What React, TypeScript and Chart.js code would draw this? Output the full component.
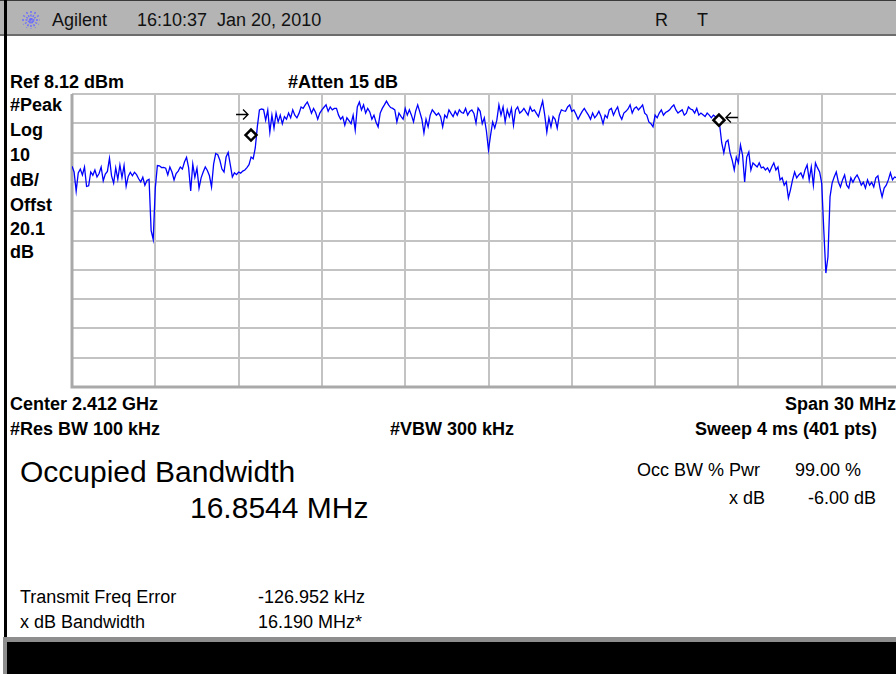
import React, { useEffect, useRef } from "react";
import { Chart, registerables } from "chart.js";

Chart.register(...registerables);

const START_FREQ_MHZ = -15; // Center 2.412 GHz, Span 30 MHz
const STOP_FREQ_MHZ = 15;
const SWEEP_POINTS = 401;
const REF_LEVEL_DBM = 8.12;
const BOTTOM_LEVEL_DBM = -91.88; // 10 dB/div, 10 divisions

const LEVELS_DBM: number[] = [
  -16.5, -18.5, -25.0, -18.8, -17.5, -19.5, -16.8, -23.4, -23.2, -18.5,
  -19.6, -17.8, -20.2, -19.0, -16.8, -21.5, -19.2, -18.3, -13.8, -19.8,
  -22.3, -17.1, -21.0, -16.1, -20.4, -16.3, -23.4, -20.0, -18.6, -19.8,
  -18.6, -19.4, -20.8, -21.9, -20.3, -23.0, -21.4, -21.0, -38.5, -41.5,
  -24.0, -16.3, -16.4, -17.0, -16.9, -17.2, -19.5, -16.8, -18.5, -21.2,
  -19.0, -18.2, -16.8, -17.5, -15.1, -13.5, -17.0, -25.0, -15.8, -20.3,
  -17.2, -24.0, -20.5, -18.5, -16.8, -18.0, -19.8, -23.6, -15.8, -12.2,
  -12.6, -14.5, -17.5, -18.5, -13.4, -11.8, -16.0, -20.2, -18.8, -19.4,
  -18.5, -18.9, -18.2, -17.8, -17.0, -16.0, -13.4, -14.0, -10.3, -3.0,
  2.7, 3.0, 2.8, -0.8, 2.6, -4.9, 0.9, -3.5, 1.6, -1.4,
  0.9, -2.0, 0.4, -0.5, 1.6, 0.0, 2.7, 0.9, 0.0, 1.5,
  3.7, 3.2, 4.4, 5.4, 3.7, 1.6, 3.2, 1.8, -0.5, 1.6,
  2.7, 3.6, 4.4, 2.2, 3.7, 2.7, 3.2, 3.2, 0.9, -0.5,
  0.4, -2.5, 0.0, -1.0, -2.0, 0.9, -4.2, 3.7, 5.4, 2.7,
  4.4, 1.6, 3.2, 2.0, -0.5, 0.9, -1.5, -3.1, 1.6, 3.2,
  4.4, 5.7, 4.4, 3.5, 3.2, 2.7, -1.4, 1.6, 0.5, -0.5,
  3.2, 0.9, 2.7, 0.9, -1.4, 2.2, 4.4, 2.0, -0.5, -5.2,
  -0.5, -3.1, 0.9, 2.7, 1.8, 0.9, 1.6, 0.4, -3.1, 0.9,
  0.0, 2.7, 1.5, 0.4, 2.2, 0.9, 2.7, 1.8, 1.6, 3.2,
  0.9, 2.2, 2.7, 1.5, -1.8, 3.3, 2.2, -2.0, 0.0, -4.5,
  -11.0, -5.9, -1.4, -3.5, -0.8, 4.4, 0.9, 3.7, -1.4, 2.7,
  0.4, 3.2, -2.5, 2.7, 3.7, 1.6, 2.2, 3.2, 2.0, 0.9,
  3.7, 2.2, 2.7, 1.5, 0.4, 3.2, 5.7, 0.9, -4.9, 0.0,
  -3.1, 0.4, -0.5, -3.5, 0.9, 2.7, 2.4, 2.2, 3.7, 4.4,
  2.2, 2.7, 1.2, -0.5, 0.9, 2.2, 3.2, 2.0, 0.9, -0.5,
  1.6, 0.0, 0.9, 2.2, 0.5, -2.0, 0.9, 0.0, 2.7, 3.2,
  0.9, 2.5, 3.7, 0.9, -0.5, 1.6, 2.2, 3.0, 4.4, 1.6,
  3.2, 3.7, 2.7, 3.5, 4.4, 1.6, 0.9, -1.4, -2.0, -3.1,
  0.9, 0.0, 1.6, 2.7, 0.9, 1.8, 2.2, 2.7, 3.7, 4.4,
  2.7, 1.6, 2.2, 2.7, 0.9, 1.6, 3.7, 3.0, 2.7, 1.6,
  3.2, 0.9, 1.6, 1.0, 0.4, 1.6, 0.9, 0.0, 0.9, 0.4,
  -0.5, -2.5, -8.6, -12.0, -8.3, -7.6, -12.0, -14.4, -17.8, -13.4,
  -15.4, -9.3, -12.7, -21.9, -13.4, -11.7, -17.8, -15.4, -16.1, -16.8,
  -15.4, -17.1, -16.8, -17.8, -17.1, -18.5, -16.8, -15.4, -17.8, -16.8,
  -21.2, -20.5, -23.0, -21.9, -27.4, -24.6, -21.2, -18.5, -20.5, -19.5,
  -18.8, -20.5, -17.8, -16.1, -21.2, -16.8, -23.0, -15.4, -17.1, -18.5,
  -22.3, -38.3, -53.0, -47.5, -27.0, -22.3, -20.2, -18.5, -21.9, -23.6,
  -21.2, -19.5, -23.0, -24.0, -20.5, -22.0, -20.5, -19.5, -21.0, -23.0,
  -22.0, -24.0, -21.2, -23.0, -22.0, -23.6, -20.5, -19.8, -24.0, -27.0,
  -24.0, -23.0, -21.2, -18.8, -21.2, -20.2, -20.5, -19.0, -21.5, -22.0,
  -20.0,
];

const X_GRID_MHZ = [-15, -12, -9, -6, -3, 0, 3, 6, 9, 12, 15];
const Y_GRID_DBM = [8.12, -1.88, -11.88, -21.88, -31.88, -41.88, -51.88, -61.88, -71.88, -81.88, -91.88];

const MARKER_FREQS_MHZ = [-8.554, 8.3];
const MARKER_LEVELS_DBM = [-5.9, -0.8];
const ARROW_FREQS_MHZ = [-8.66, 8.55];
const ARROW_LEVELS_DBM = [1.3, 0.3];
const ARROW_DIRS = [1, -1];

const gridPlugin = {
  id: "saGrid",
  beforeDatasetsDraw(chart: any) {
    const { ctx, chartArea, scales } = chart;
    const xs = scales.x;
    const ys = scales.y;
    ctx.save();
    ctx.strokeStyle = "#c3c3c3";
    ctx.lineWidth = 2;
    X_GRID_MHZ.forEach((f) => {
      const px = Math.round(xs.getPixelForValue(f));
      ctx.beginPath();
      ctx.moveTo(px, chartArea.top);
      ctx.lineTo(px, chartArea.bottom);
      ctx.stroke();
    });
    Y_GRID_DBM.forEach((v) => {
      const py = Math.round(ys.getPixelForValue(v));
      ctx.beginPath();
      ctx.moveTo(chartArea.left, py);
      ctx.lineTo(chartArea.right, py);
      ctx.stroke();
    });
    // heavier left and bottom frame
    ctx.strokeStyle = "#a9a9a9";
    ctx.lineWidth = 3;
    ctx.beginPath();
    ctx.moveTo(chartArea.left, chartArea.top);
    ctx.lineTo(chartArea.left, chartArea.bottom);
    ctx.lineTo(chartArea.right, chartArea.bottom);
    ctx.stroke();
    ctx.restore();
  },
};

const arrowPlugin = {
  id: "saArrows",
  afterDatasetsDraw(chart: any) {
    const { ctx, scales } = chart;
    ctx.save();
    ctx.strokeStyle = "#000";
    ctx.lineWidth = 1.3;
    ARROW_FREQS_MHZ.forEach((f, i) => {
      const tip = scales.x.getPixelForValue(f);
      const py = Math.round(scales.y.getPixelForValue(ARROW_LEVELS_DBM[i])) + 0.5;
      const d = ARROW_DIRS[i];
      ctx.beginPath();
      ctx.moveTo(tip - d * 12, py);
      ctx.lineTo(tip, py);
      ctx.moveTo(tip - d * 5, py - 5);
      ctx.lineTo(tip, py);
      ctx.lineTo(tip - d * 5, py + 5);
      ctx.stroke();
    });
    ctx.restore();
  },
};

function SpectrumChart() {
  const ref = useRef<HTMLCanvasElement | null>(null);
  useEffect(() => {
    if (!ref.current) return;
    const step = (STOP_FREQ_MHZ - START_FREQ_MHZ) / (SWEEP_POINTS - 1);
    const trace = LEVELS_DBM.map((v, i) => ({ x: START_FREQ_MHZ + i * step, y: v }));
    const markers = MARKER_FREQS_MHZ.map((f, i) => ({ x: f, y: MARKER_LEVELS_DBM[i] }));
    const chart = new Chart(ref.current, {
      type: "line",
      data: {
        datasets: [
          {
            data: markers,
            showLine: false,
            pointStyle: "rectRot",
            pointRadius: 5.5,
            pointBorderWidth: 2.5,
            pointBorderColor: "#000",
            pointBackgroundColor: "#fff",
            order: 0,
          },
          {
            data: trace,
            borderColor: "#0000ff",
            borderWidth: 1.3,
            pointRadius: 0,
            tension: 0,
            fill: false,
            order: 1,
          },
        ],
      },
      options: {
        responsive: false,
        animation: false,
        devicePixelRatio: 1,
        layout: { autoPadding: false, padding: { left: 2, top: 2, right: 5, bottom: 3 } },
        plugins: { legend: { display: false }, tooltip: { enabled: false } },
        scales: {
          x: { type: "linear", min: START_FREQ_MHZ, max: STOP_FREQ_MHZ, display: false },
          y: { type: "linear", min: BOTTOM_LEVEL_DBM, max: REF_LEVEL_DBM, display: false },
        },
      },
      plugins: [gridPlugin, arrowPlugin],
    });
    return () => chart.destroy();
  }, []);
  return (
    <canvas
      ref={ref}
      width={840}
      height={298}
      style={{ position: "absolute", left: 70, top: 92, width: 840, height: 298 }}
    />
  );
}

function T(props: { x: number; y: number; size?: number; bold?: boolean; children: any; color?: string }) {
  const size = props.size ?? 18;
  return (
    <div
      style={{
        position: "absolute",
        left: props.x,
        top: props.y - size * 0.5,
        fontSize: size,
        lineHeight: `${size}px`,
        fontWeight: props.bold ? "bold" : "normal",
        whiteSpace: "nowrap",
        color: props.color ?? "#000",
      }}
    >
      {props.children}
    </div>
  );
}

function Logo() {
  const angles = [0, 30, 60, 90, 120, 150];
  return (
    <svg width={22} height={22} style={{ position: "absolute", left: 20, top: 9 }}>
      {angles.map((a) => {
        const r = (a * Math.PI) / 180;
        return (
          <line
            key={a}
            x1={11 - Math.cos(r) * 9}
            y1={11 - Math.sin(r) * 9}
            x2={11 + Math.cos(r) * 9}
            y2={11 + Math.sin(r) * 9}
            stroke="#6b6bff"
            strokeWidth={1.4}
            strokeDasharray="2 1.5"
          />
        );
      })}
    </svg>
  );
}

export default function App() {
  return (
    <div
      style={{
        position: "fixed",
        left: 0,
        top: 0,
        width: 896,
        height: 674,
        overflow: "hidden",
        background: "#fff",
        fontFamily: '"Liberation Sans", Arial, sans-serif',
      }}
    >
      {/* title bar */}
      <div
        style={{
          position: "absolute",
          left: 0,
          top: 0,
          width: 896,
          height: 33,
          background: "#b4b4b4",
          borderTop: "1px solid #3a3a3a",
          borderBottom: "2px solid #6c6c6c",
        }}
      />
      <Logo />
      <T x={52} y={20} size={18} color="#111">Agilent</T>
      <T x={137} y={20} size={18} color="#111">16:10:37&nbsp; Jan 20, 2010</T>
      <T x={655} y={20} size={18} color="#111">R</T>
      <T x={697} y={20} size={18} color="#111">T</T>

      {/* left frame line */}
      <div style={{ position: "absolute", left: 4, top: 0, width: 3, height: 640, background: "#000" }} />

      <SpectrumChart />

      <T x={10} y={82} bold>Ref 8.12 dBm</T>
      <T x={288} y={82} bold>#Atten 15 dB</T>
      <T x={10} y={105} bold>#Peak</T>
      <T x={10} y={130} bold>Log</T>
      <T x={10} y={155} bold>10</T>
      <T x={10} y={180} bold>dB/</T>
      <T x={10} y={205} bold>Offst</T>
      <T x={10} y={229} bold>20.1</T>
      <T x={10} y={252} bold>dB</T>

      <T x={10} y={404} bold>Center 2.412 GHz</T>
      <T x={785} y={404} bold>Span 30 MHz</T>
      <T x={10} y={429} bold>#Res BW 100 kHz</T>
      <T x={390} y={429} bold>#VBW 300 kHz</T>
      <T x={695} y={429} bold>Sweep 4 ms (401 pts)</T>

      <T x={20} y={472} size={30}>Occupied Bandwidth</T>
      <T x={190} y={508} size={30}>16.8544 MHz</T>
      <T x={637} y={470} size={18}>Occ BW % Pwr</T>
      <T x={795} y={470} size={18}>99.00 %</T>
      <T x={729} y={498} size={18}>x dB</T>
      <T x={808} y={498} size={18}>-6.00 dB</T>

      <T x={20} y={597} size={18}>Transmit Freq Error</T>
      <T x={258} y={597} size={18}>-126.952 kHz</T>
      <T x={20} y={622} size={18}>x dB Bandwidth</T>
      <T x={258} y={622} size={18}>16.190 MHz*</T>

      {/* bottom black status area */}
      <div
        style={{
          position: "absolute",
          left: 3,
          top: 637,
          width: 900,
          height: 40,
          background: "#000",
          borderTop: "5px solid #8e8e8e",
          borderLeft: "4px solid #8e8e8e",
        }}
      />
    </div>
  );
}
